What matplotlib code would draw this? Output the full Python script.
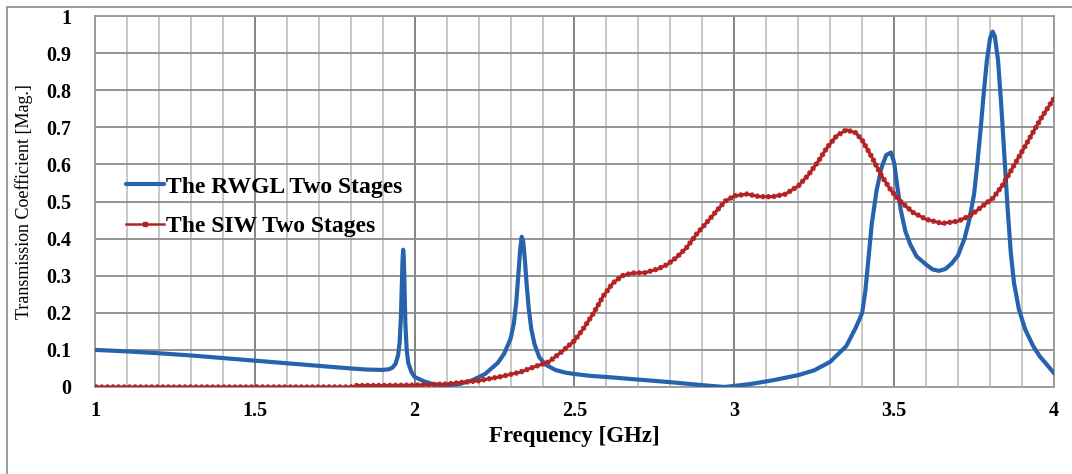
import matplotlib
matplotlib.use("Agg")
import matplotlib.pyplot as plt
from matplotlib.patches import Rectangle
from matplotlib.ticker import MultipleLocator, FixedLocator, FixedFormatter

# ---- data ----
rwgl_freq = [1.00, 1.10, 1.20, 1.30, 1.40, 1.50, 1.60, 1.70, 1.80, 1.85, 1.90, 1.92,
             1.93, 1.94, 1.948, 1.953, 1.957, 1.960, 1.962, 1.964, 1.966, 1.968, 1.971,
             1.975, 1.98, 1.99, 2.00, 2.03, 2.06, 2.10, 2.14, 2.18, 2.22, 2.26, 2.28,
             2.30, 2.31, 2.318, 2.325, 2.33, 2.335, 2.34, 2.345, 2.35, 2.357, 2.365,
             2.375, 2.39, 2.41, 2.44, 2.47, 2.50, 2.55, 2.60, 2.70, 2.80, 2.90, 2.97,
             3.05, 3.12, 3.20, 3.25, 3.30, 3.35, 3.38, 3.40, 3.41, 3.42, 3.43, 3.445,
             3.46, 3.475, 3.49, 3.50, 3.51, 3.52, 3.535, 3.55, 3.57, 3.60, 3.62, 3.64,
             3.66, 3.68, 3.70, 3.72, 3.735, 3.75, 3.76, 3.77, 3.78, 3.79, 3.80, 3.808,
             3.815, 3.825, 3.835, 3.845, 3.855, 3.865, 3.875, 3.89, 3.91, 3.935, 3.956,
             3.98, 4.00]
rwgl_mag = [0.100, 0.096, 0.091, 0.085, 0.078, 0.071, 0.064, 0.057, 0.050, 0.047, 0.046, 0.048,
            0.052, 0.062, 0.085, 0.12, 0.19, 0.28, 0.34, 0.37, 0.35, 0.28, 0.17,
            0.10, 0.065, 0.040, 0.027, 0.015, 0.007, 0.004, 0.008, 0.018, 0.035, 0.065, 0.09,
            0.13, 0.17, 0.23, 0.31, 0.37, 0.405, 0.39, 0.34, 0.28, 0.21, 0.155,
            0.115, 0.080, 0.060, 0.046, 0.039, 0.035, 0.030, 0.027, 0.020, 0.013, 0.005, 0.000,
            0.008, 0.018, 0.032, 0.045, 0.068, 0.11, 0.16, 0.20, 0.26, 0.35, 0.44, 0.53,
            0.59, 0.625, 0.632, 0.605, 0.54, 0.48, 0.42, 0.385, 0.352, 0.330, 0.317, 0.313,
            0.318, 0.333, 0.355, 0.40, 0.45, 0.52, 0.60, 0.69, 0.79, 0.88, 0.94, 0.958,
            0.945, 0.88, 0.76, 0.62, 0.48, 0.36, 0.28, 0.21, 0.155, 0.11, 0.082,
            0.058, 0.037]

siw_freq = [1.00, 1.80, 1.82, 1.90, 2.00, 2.10, 2.20, 2.27, 2.33, 2.37, 2.42, 2.46, 2.50,
            2.53, 2.56, 2.59, 2.62, 2.65, 2.68, 2.72, 2.76, 2.79, 2.82, 2.85, 2.88, 2.91,
            2.94, 2.97, 3.00, 3.04, 3.08, 3.12, 3.16, 3.20, 3.23, 3.26, 3.29, 3.32, 3.35,
            3.38, 3.40, 3.43, 3.46, 3.49, 3.52, 3.56, 3.60, 3.65, 3.70, 3.74, 3.78, 3.81,
            3.84, 3.87, 3.90, 3.93, 3.96, 4.00]
siw_mag = [0.000, 0.000, 0.004, 0.004, 0.005, 0.008, 0.017, 0.028, 0.040, 0.053, 0.068, 0.095, 0.125,
           0.16, 0.20, 0.245, 0.28, 0.300, 0.307, 0.308, 0.318, 0.33, 0.35, 0.375, 0.41, 0.44,
           0.47, 0.50, 0.515, 0.52, 0.513, 0.513, 0.52, 0.542, 0.57, 0.605, 0.645, 0.677, 0.693,
           0.685, 0.665, 0.62, 0.57, 0.53, 0.50, 0.47, 0.452, 0.441, 0.447, 0.463, 0.49, 0.51,
           0.545, 0.59, 0.635, 0.68, 0.725, 0.778]

x_ticks = [1, 1.5, 2, 2.5, 3, 3.5, 4]
x_tick_labels = ["1", "1.5", "2", "2.5", "3", "3.5", "4"]
y_ticks = [0, 0.1, 0.2, 0.3, 0.4, 0.5, 0.6, 0.7, 0.8, 0.9, 1]
y_tick_labels = ["0", "0.1", "0.2", "0.3", "0.4", "0.5", "0.6", "0.7", "0.8", "0.9", "1"]

label_rwgl = "The RWGL Two Stages"
label_siw = "The SIW Two Stages"

BLUE = "#2763ad"
RED = "#b42323"
SERIF = "Liberation Serif"

fig = plt.figure(figsize=(10.72, 4.74), dpi=100)
fig.patch.set_facecolor("white")
fig.patches.append(Rectangle((7 / 1072, -0.05), 1.1, (474 - 7) / 474 + 0.05,
                             transform=fig.transFigure, fill=False,
                             edgecolor="#8a8a8a", linewidth=1.2))

ax = fig.add_axes([95 / 1072, (474 - 387) / 474, (1054 - 95) / 1072, (387 - 16) / 474])
ax.set_xlim(1, 4)
ax.set_ylim(0, 1)

ax.xaxis.set_major_locator(FixedLocator(x_ticks))
ax.xaxis.set_major_formatter(FixedFormatter(x_tick_labels))
ax.xaxis.set_minor_locator(MultipleLocator(0.1))
ax.yaxis.set_major_locator(FixedLocator(y_ticks))
ax.yaxis.set_major_formatter(FixedFormatter(y_tick_labels))

ax.grid(which="minor", axis="x", color="#c4c4c4", linewidth=1.3)
ax.grid(which="major", axis="x", color="#7a7a7a", linewidth=1.3)
ax.grid(which="major", axis="y", color="#8c8c8c", linewidth=1.3)
ax.set_axisbelow(True)
for s in ax.spines.values():
    s.set_color("#9a9a9a")
    s.set_linewidth(1.3)
ax.tick_params(which="both", length=0)
ax.tick_params(axis="x", pad=10)
ax.tick_params(axis="y", pad=17)

for lab in ax.get_xticklabels() + ax.get_yticklabels():
    lab.set_fontfamily(SERIF)
    lab.set_fontweight("bold")
    lab.set_fontsize(14.5)

ax.plot(rwgl_freq, rwgl_mag, color=BLUE, linewidth=3.0, solid_joinstyle="round",
        solid_capstyle="round", label=label_rwgl, zorder=3)
ax.plot(siw_freq, siw_mag, color=RED, linewidth=2.4, zorder=4)
ax.plot(siw_freq, siw_mag, color=RED, linewidth=3.8, linestyle=(0, (0.5, 0.55)),
        dash_capstyle="butt", zorder=4)
# legend proxy for SIW
ax.plot([], [], color=RED, linewidth=1.8, marker="s", markersize=3, label=label_siw)

leg = ax.legend(loc="upper left", bbox_to_anchor=(0.02, 0.6), frameon=False,
                prop={"family": SERIF, "weight": "bold", "size": 17},
                handlelength=1.6, handletextpad=0.1, labelspacing=0.75, borderpad=0)

ax.set_xlabel("Frequency [GHz]", fontfamily=SERIF, fontweight="bold", fontsize=16.5,
              labelpad=4)
ax.set_ylabel("Transmission Coefficient [Mag.]", fontfamily=SERIF, fontsize=13,
              labelpad=8)
ax.yaxis.set_label_coords(-62 / 959, 0.5)

fig.savefig("out.png", dpi=100)
